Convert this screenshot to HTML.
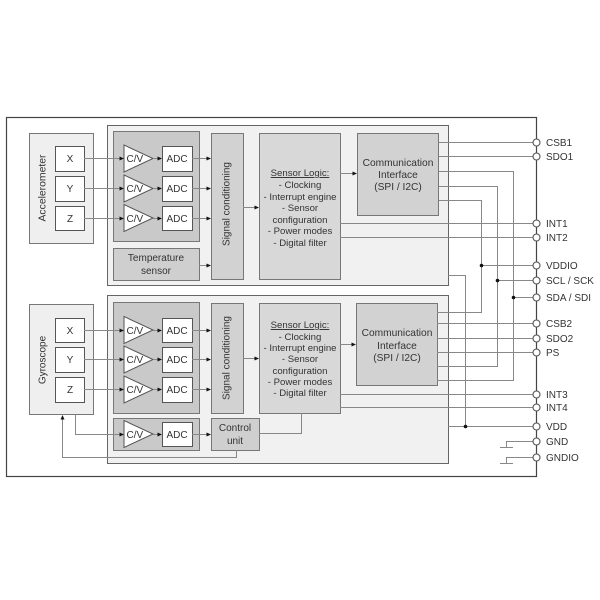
<!DOCTYPE html>
<html><head><meta charset="utf-8"><style>
html,body{margin:0;padding:0;background:#fff;}
svg{display:block;}
text{font-family:"Liberation Sans",Arial,sans-serif;fill:#333;}
</style></head><body>
<svg width="600" height="600" viewBox="0 0 600 600" xmlns="http://www.w3.org/2000/svg">
<rect x="0" y="0" width="600" height="600" fill="#fff"/>
<!-- outer frame -->
<rect x="6.5" y="117.5" width="530" height="359" fill="#fff" stroke="#444" stroke-width="1.2"/>

<!-- group boxes -->
<rect x="107.5" y="125.5" width="341" height="160" fill="#f1f1f1" stroke="#666" stroke-width="1"/>
<rect x="107.5" y="295.5" width="341" height="168" fill="#f1f1f1" stroke="#666" stroke-width="1"/>

<!-- sensors -->
<rect x="29.5" y="133.5" width="64" height="110" fill="#efefef" stroke="#777"/>
<rect x="29.5" y="304.5" width="64" height="110" fill="#efefef" stroke="#777"/>
<text transform="translate(43,188) rotate(-90)" text-anchor="middle" dominant-baseline="central" font-size="10.4">Accelerometer</text>
<text transform="translate(43,360) rotate(-90)" text-anchor="middle" dominant-baseline="central" font-size="10">Gyroscope</text>

<g fill="#fff" stroke="#555">
<rect x="55.5" y="146.5" width="29" height="25"/>
<rect x="55.5" y="176.5" width="29" height="25"/>
<rect x="55.5" y="206.5" width="29" height="24"/>
<rect x="55.5" y="318.5" width="29" height="24"/>
<rect x="55.5" y="347.5" width="29" height="25"/>
<rect x="55.5" y="377.5" width="29" height="25"/>
</g>
<g font-size="10" text-anchor="middle">
<text x="70" y="162">X</text>
<text x="70" y="192">Y</text>
<text x="70" y="222">Z</text>
<text x="70" y="334">X</text>
<text x="70" y="363">Y</text>
<text x="70" y="393">Z</text>
</g>

<!-- dark inner boxes -->
<g fill="#c9c9c9" stroke="#777">
<rect x="113.5" y="131.5" width="86" height="110"/>
<rect x="113.5" y="302.5" width="86" height="111"/>
<rect x="113.5" y="418.5" width="86" height="32"/>
<rect x="113.5" y="248.5" width="86" height="32" fill="#cfcfcf"/>
<rect x="211.5" y="418.5" width="48" height="32" fill="#cfcfcf"/>
</g>
<text x="156" y="261" font-size="10" text-anchor="middle">Temperature</text>
<text x="156" y="274" font-size="10" text-anchor="middle">sensor</text>
<text x="235" y="431" font-size="10" text-anchor="middle">Control</text>
<text x="235" y="444" font-size="10" text-anchor="middle">unit</text>

<!-- signal conditioning, sensor logic, comm -->
<g stroke="#777">
<rect x="211.5" y="133.5" width="32" height="146" fill="#d2d2d2"/>
<rect x="211.5" y="303.5" width="32" height="110" fill="#d2d2d2"/>
<rect x="259.5" y="133.5" width="81" height="146" fill="#d8d8d8"/>
<rect x="259.5" y="303.5" width="81" height="110" fill="#d8d8d8"/>
<rect x="357.5" y="133.5" width="81" height="82" fill="#d2d2d2"/>
<rect x="356.5" y="303.5" width="81" height="82" fill="#d2d2d2"/>
</g>
<text transform="translate(227,204) rotate(-90)" text-anchor="middle" dominant-baseline="central" font-size="10">Signal conditioning</text>
<text transform="translate(227,358) rotate(-90)" text-anchor="middle" dominant-baseline="central" font-size="10">Signal conditioning</text>

<g font-size="9.6" text-anchor="middle">
<text x="300" y="176" text-decoration="underline">Sensor Logic:</text>
<text x="300" y="188">- Clocking</text>
<text x="300" y="200">- Interrupt engine</text>
<text x="300" y="211">- Sensor</text>
<text x="300" y="223">configuration</text>
<text x="300" y="234">- Power modes</text>
<text x="300" y="246">- Digital filter</text>

<text x="300" y="328" text-decoration="underline">Sensor Logic:</text>
<text x="300" y="340">- Clocking</text>
<text x="300" y="351">- Interrupt engine</text>
<text x="300" y="362">- Sensor</text>
<text x="300" y="374">configuration</text>
<text x="300" y="385">- Power modes</text>
<text x="300" y="396">- Digital filter</text>
</g>
<g font-size="10.2" text-anchor="middle">
<text x="398" y="166">Communication</text>
<text x="398" y="178">Interface</text>
<text x="398" y="190">(SPI / I2C)</text>
<text x="397" y="336">Communication</text>
<text x="397" y="349">Interface</text>
<text x="397" y="361">(SPI / I2C)</text>
</g>

<!-- ADC boxes -->
<g fill="#fff" stroke="#555">
<rect x="162.5" y="146.5" width="30" height="25"/>
<rect x="162.5" y="176.5" width="30" height="25"/>
<rect x="162.5" y="206.5" width="30" height="24"/>
<rect x="162.5" y="318.5" width="30" height="24"/>
<rect x="162.5" y="347.5" width="30" height="25"/>
<rect x="162.5" y="377.5" width="30" height="25"/>
<rect x="162.5" y="422.5" width="30" height="24"/>
</g>
<g font-size="10" text-anchor="middle">
<text x="177" y="162">ADC</text>
<text x="177" y="192">ADC</text>
<text x="177" y="222">ADC</text>
<text x="177" y="334">ADC</text>
<text x="177" y="363">ADC</text>
<text x="177" y="393">ADC</text>
<text x="177" y="438">ADC</text>
</g>

<!-- C/V triangles -->
<g fill="#fff" stroke="#555">
<polygon points="124,145 124,172 153,158.5"/>
<polygon points="124,175 124,202 153,188.5"/>
<polygon points="124,204.5 124,231.5 153,218"/>
<polygon points="124,316.5 124,343.5 153,330"/>
<polygon points="124,346 124,373 153,359.5"/>
<polygon points="124,376 124,403 153,389.5"/>
<polygon points="124,420.5 124,447.5 153,434"/>
</g>
<g font-size="10">
<text x="126.5" y="162">C/V</text>
<text x="126.5" y="192">C/V</text>
<text x="126.5" y="222">C/V</text>
<text x="126.5" y="334">C/V</text>
<text x="126.5" y="363">C/V</text>
<text x="126.5" y="393">C/V</text>
<text x="126.5" y="438">C/V</text>
</g>

<!-- connector lines -->
<g fill="none" stroke="#888" stroke-width="1">
<!-- upper signal chain -->
<path d="M84,158.5H121 M153,158.5H159 M192,158.5H208"/>
<path d="M84,188.5H121 M153,188.5H159 M192,188.5H208"/>
<path d="M84,218.5H121 M153,218.5H159 M192,218.5H208"/>
<path d="M199,265.5H208 M243,207.5H256 M340,173.5H354"/>
<!-- lower signal chain -->
<path d="M84,330.5H121 M153,330.5H159 M192,330.5H208"/>
<path d="M84,359.5H121 M153,359.5H159 M192,359.5H208"/>
<path d="M84,389.5H121 M153,389.5H159 M192,389.5H208"/>
<path d="M243,358.5H256 M340,344.5H353"/>
<path d="M75.5,415V434.5H121 M153,434.5H159 M192,434.5H208"/>
<path d="M259,433.5H301.5V413"/>
<path d="M236.5,450V457.5H62.5V419"/>
<!-- comm to pins -->
<path d="M439,142.5H532.5 M439,156.5H532.5"/>
<path d="M439,171.5H513.5V380.5H437"/>
<path d="M439,186.5H497.5V366.5H437"/>
<path d="M439,200.5H481.5V312.5H437"/>
<path d="M340,223.5H532.5 M340,237.5H532.5"/>
<path d="M481.5,265.5H532.5 M497.5,280.5H532.5 M513.5,297.5H532.5"/>
<path d="M448,275.5H465.5V426.5 M448,426.5H532.5"/>
<path d="M437,323.5H532.5 M437,338.5H532.5 M437,352.5H532.5"/>
<path d="M340,394.5H532.5 M340,407.5H532.5"/>
<!-- grounds -->
<path d="M532.5,441.5H506.5V447.5 M500,447.5H513"/>
<path d="M532.5,457.5H506.5V463.5 M500,463.5H513"/>
</g>

<!-- arrowheads -->
<g fill="#111">
<polygon points="124,158.5 119.5,156.5 119.5,160.5"/>
<polygon points="162,158.5 157.5,156.5 157.5,160.5"/>
<polygon points="211,158.5 206.5,156.5 206.5,160.5"/>
<polygon points="124,188.5 119.5,186.5 119.5,190.5"/>
<polygon points="162,188.5 157.5,186.5 157.5,190.5"/>
<polygon points="211,188.5 206.5,186.5 206.5,190.5"/>
<polygon points="124,218.5 119.5,216.5 119.5,220.5"/>
<polygon points="162,218.5 157.5,216.5 157.5,220.5"/>
<polygon points="211,218.5 206.5,216.5 206.5,220.5"/>
<polygon points="211,265.5 206.5,263.5 206.5,267.5"/>
<polygon points="259,207.5 254.5,205.5 254.5,209.5"/>
<polygon points="357,173.5 352.5,171.5 352.5,175.5"/>
<polygon points="124,330.5 119.5,328.5 119.5,332.5"/>
<polygon points="162,330.5 157.5,328.5 157.5,332.5"/>
<polygon points="211,330.5 206.5,328.5 206.5,332.5"/>
<polygon points="124,359.5 119.5,357.5 119.5,361.5"/>
<polygon points="162,359.5 157.5,357.5 157.5,361.5"/>
<polygon points="211,359.5 206.5,357.5 206.5,361.5"/>
<polygon points="124,389.5 119.5,387.5 119.5,391.5"/>
<polygon points="162,389.5 157.5,387.5 157.5,391.5"/>
<polygon points="211,389.5 206.5,387.5 206.5,391.5"/>
<polygon points="259,358.5 254.5,356.5 254.5,360.5"/>
<polygon points="356,344.5 351.5,342.5 351.5,346.5"/>
<polygon points="124,434.5 119.5,432.5 119.5,436.5"/>
<polygon points="162,434.5 157.5,432.5 157.5,436.5"/>
<polygon points="211,434.5 206.5,432.5 206.5,436.5"/>
<polygon points="62.5,415 60.5,419.5 64.5,419.5"/>
<!-- junction dots -->
<circle cx="481.5" cy="265.5" r="1.8"/>
<circle cx="497.5" cy="280.5" r="1.8"/>
<circle cx="513.5" cy="297.5" r="1.8"/>
<circle cx="465.5" cy="426.5" r="1.8"/>
</g>

<!-- pins -->
<g fill="#fff" stroke="#555" stroke-width="1.1">
<circle cx="536.5" cy="142.5" r="3.5"/>
<circle cx="536.5" cy="156.5" r="3.5"/>
<circle cx="536.5" cy="223.5" r="3.5"/>
<circle cx="536.5" cy="237.5" r="3.5"/>
<circle cx="536.5" cy="265.5" r="3.5"/>
<circle cx="536.5" cy="280.5" r="3.5"/>
<circle cx="536.5" cy="297.5" r="3.5"/>
<circle cx="536.5" cy="323.5" r="3.5"/>
<circle cx="536.5" cy="338.5" r="3.5"/>
<circle cx="536.5" cy="352.5" r="3.5"/>
<circle cx="536.5" cy="394.5" r="3.5"/>
<circle cx="536.5" cy="407.5" r="3.5"/>
<circle cx="536.5" cy="426.5" r="3.5"/>
<circle cx="536.5" cy="441.5" r="3.5"/>
<circle cx="536.5" cy="457.5" r="3.5"/>
</g>
<g font-size="10">
<text x="546" y="146">CSB1</text>
<text x="546" y="160">SDO1</text>
<text x="546" y="227">INT1</text>
<text x="546" y="241">INT2</text>
<text x="546" y="269">VDDIO</text>
<text x="546" y="284">SCL / SCK</text>
<text x="546" y="301">SDA / SDI</text>
<text x="546" y="327">CSB2</text>
<text x="546" y="342">SDO2</text>
<text x="546" y="356">PS</text>
<text x="546" y="398">INT3</text>
<text x="546" y="411">INT4</text>
<text x="546" y="430">VDD</text>
<text x="546" y="445">GND</text>
<text x="546" y="461">GNDIO</text>
</g>
</svg>
</body></html>
